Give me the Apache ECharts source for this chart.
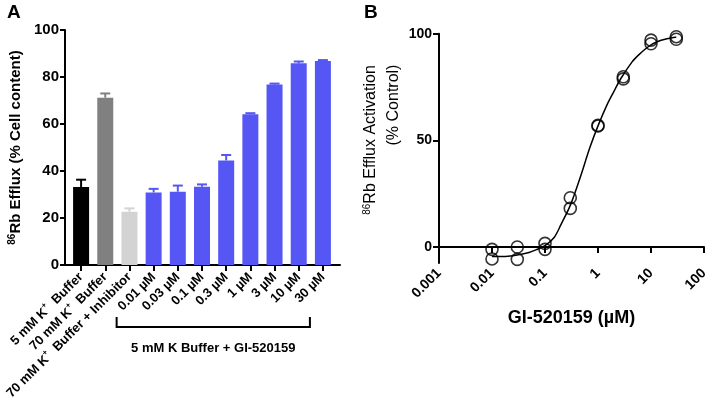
<!DOCTYPE html>
<html>
<head>
<meta charset="utf-8">
<script src="https://cdn.jsdelivr.net/npm/echarts@6/dist/echarts.min.js"></script>
<style>html,body{margin:0;padding:0;background:#fff}#c{width:709px;height:408px}</style>
</head>
<body>
<div id="c"></div>
<script>
// ---- Panel A data ----
var categoriesA = ['5 mM K+ Buffer', '70 mM K+ Buffer', '70 mM K+ Buffer + Inhibitor',
  '0.01 µM', '0.03 µM', '0.1 µM', '0.3 µM', '1 µM', '3 µM', '10 µM', '30 µM'];
var effluxA = [33.2, 71.2, 22.7, 30.9, 31.2, 33.3, 44.5, 64.2, 76.8, 85.8, 86.8];
var errorA = [3.1, 1.8, 1.4, 1.5, 2.6, 1.0, 2.3, 0.4, 0.4, 0.8, 0.4];
var colorsA = ['#000000', '#808080', '#d3d3d3', '#5656F5', '#5656F5', '#5656F5', '#5656F5',
  '#5656F5', '#5656F5', '#5656F5', '#5656F5'];
var yTicksA = [0, 20, 40, 60, 80, 100];

// ---- Panel B data ----
var dosesB = [0.01, 0.03, 0.1, 0.3, 1, 3, 10, 30];
var rep1B = [-1.1, 0, 1.7, 23.1, 57.0, 79.8, 97.0, 98.6];
var rep2B = [-5.6, -5.8, -1.1, 18.1, 56.7, 78.8, 95.3, 97.4];
var curveXB = [0.01, 0.02, 0.03, 0.05, 0.07, 0.1, 0.15, 0.2, 0.3, 0.46, 0.7, 1, 1.5, 2, 2.7, 4.4, 6, 9, 13, 20, 30];
var curveYB = [-4.5, -4.3, -3.8, -2.6, -1.2, 0.6, 4.6, 10.5, 19.5, 32.5, 46.5, 56.8, 67, 73, 79, 86.8, 90.3, 94, 96.2, 97.6, 98.4];
var baselineAnchorXB = [0.01, 10];   // zero line spans one decade beyond each anchor (0.001 .. 100)
var baselineYB = 0;
var xTickLabelsB = ['0.001', '0.01', '0.1', '1', '10', '100'];
var yTicksB = [0, 50, 100];

var FONT = 'Arial, "Liberation Sans", Helvetica, sans-serif';
var chart = echarts.init(document.getElementById('c'), null, {renderer: 'canvas'});

var barData = effluxA.map(function (v, i) {
  return {value: v, itemStyle: {color: colorsA[i]}};
});
var errData = effluxA.map(function (v, i) { return [i, v, v + errorA[i]]; });

var option = {
  animation: false,
  backgroundColor: '#fff',
  grid: [
    {left: 65, top: 30, width: 275, height: 235, containLabel: false, outerBoundsMode: 'none'},
    {left: 69, top: 30, width: 266, height: 235, containLabel: false, outerBoundsMode: 'none'},
    {left: 439, top: 33.7, width: 265, height: 229.3, containLabel: false, outerBoundsMode: 'none'}
  ],
  xAxis: [
    {gridIndex: 0, type: 'value', min: 0, max: 1,
      axisLine: {show: true, lineStyle: {color: '#000', width: 2}},
      axisTick: {show: false}, axisLabel: {show: false}, splitLine: {show: false}},
    {gridIndex: 1, type: 'category', data: categoriesA,
      axisLine: {show: false},
      axisTick: {show: true, alignWithLabel: true, length: 6, lineStyle: {color: '#000', width: 2}},
      axisLabel: {
        interval: 0, rotate: 45, margin: 10, color: '#000', fontFamily: FONT, fontWeight: 'bold', fontSize: 13,
        formatter: function (s) { return s.replace('K+ ', 'K{s|+}  '); },
        rich: {s: {fontSize: 8, fontWeight: 'bold', color: '#000', fontFamily: FONT, verticalAlign: 'top', padding: [0, 0, 9, 0]}}
      },
      splitLine: {show: false}},
    {gridIndex: 2, type: 'log', logBase: 10, min: 0.001, max: 100, splitNumber: 5,
      axisLine: {show: true, lineStyle: {color: '#000', width: 2}},
      axisTick: {show: true, length: 6, lineStyle: {color: '#000', width: 2}},
      axisLabel: {rotate: 45, margin: 8, color: '#000', fontFamily: FONT, fontWeight: 'bold', fontSize: 14,
        formatter: function (v) { var e = Math.round(Math.log10(v)); return xTickLabelsB[e + 3] || ''; }},
      minorTick: {show: false},
      splitLine: {show: false},
      name: 'GI-520159 (µM)', nameLocation: 'middle', nameGap: 46,
      nameTextStyle: {color: '#000', fontFamily: FONT, fontWeight: 'bold', fontSize: 18}}
  ],
  yAxis: [
    {gridIndex: 0, type: 'value', min: 0, max: 100, interval: 20,
      axisLine: {show: true, lineStyle: {color: '#000', width: 2}},
      axisTick: {show: true, length: 5, lineStyle: {color: '#000', width: 2}},
      axisLabel: {margin: 6, color: '#000', fontFamily: FONT, fontWeight: 'bold', fontSize: 15,
        formatter: function (v) { return yTicksA.indexOf(v) >= 0 ? String(v) : ''; }},
      splitLine: {show: false},
      name: '{s|86}Rb Efflux (% Cell content)', nameLocation: 'middle', nameRotate: 90, nameGap: 40,
      nameTextStyle: {color: '#000', fontFamily: FONT, fontWeight: 'bold', fontSize: 15,
        rich: {s: {fontSize: 10, fontWeight: 'bold', fontFamily: FONT, color: '#000', verticalAlign: 'top', padding: [0, 0, 8, 0]}}}},
    {gridIndex: 1, type: 'value', min: 0, max: 100, show: false},
    {gridIndex: 2, type: 'value', min: -7.5, max: 100,
      axisLine: {show: true, lineStyle: {color: '#000', width: 2}},
      axisTick: {show: true, length: 6, lineStyle: {color: '#000', width: 2}, customValues: yTicksB},
      axisLabel: {margin: 7, color: '#000', fontFamily: FONT, fontWeight: 'bold', fontSize: 14, customValues: yTicksB},
      splitLine: {show: false}}
  ],
  series: [
    {type: 'bar', xAxisIndex: 1, yAxisIndex: 1, data: barData, barWidth: 16, silent: true},
    {type: 'custom', xAxisIndex: 1, yAxisIndex: 1, data: errData, silent: true, z: 1,
      renderItem: function (params, api) {
        var i = api.value(0);
        var p0 = api.coord([i, api.value(1)]);
        var p1 = api.coord([i, api.value(2)]);
        var col = colorsA[i];
        var hw = 5;
        return {type: 'group', children: [
          {type: 'line', shape: {x1: p0[0], y1: p0[1], x2: p1[0], y2: p1[1]}, style: {stroke: col, lineWidth: 2}},
          {type: 'line', shape: {x1: p1[0] - hw, y1: p1[1], x2: p1[0] + hw, y2: p1[1]}, style: {stroke: col, lineWidth: 2}}
        ]};
      }},
    // dotted zero reference line: anchored on two doses, extended one decade on each side
    {type: 'scatter', xAxisIndex: 2, yAxisIndex: 2, symbolSize: 0, silent: true,
      data: baselineAnchorXB.map(function (x) { return [x, baselineYB]; }),
      itemStyle: {color: 'rgba(0,0,0,0)'}},
    {type: 'line', xAxisIndex: 2, yAxisIndex: 2, smooth: 0.3, showSymbol: false, silent: true,
      data: curveXB.map(function (x, i) { return [x, curveYB[i]]; }),
      lineStyle: {color: '#000', width: 1.5}},
    {type: 'scatter', xAxisIndex: 2, yAxisIndex: 2, symbol: 'circle', symbolSize: 12, silent: true,
      data: dosesB.map(function (x, i) { return [x, rep1B[i]]; }),
      itemStyle: {color: 'rgba(0,0,0,0)', borderColor: '#000', borderWidth: 1.6}},
    {type: 'scatter', xAxisIndex: 2, yAxisIndex: 2, symbol: 'circle', symbolSize: 12, silent: true,
      data: dosesB.map(function (x, i) { return [x, rep2B[i]]; }),
      itemStyle: {color: 'rgba(0,0,0,0)', borderColor: '#000', borderWidth: 1.6}}
  ]
};
chart.setOption(option);

// Bracket under GI-520159 concentrations (anchored on category positions)
var xs = chart.convertToPixel({xAxisIndex: 1}, 3);
var xe = chart.convertToPixel({xAxisIndex: 1}, 10);
var bx1 = xs - 37, bx2 = xe - 13, by = 327, bTop = 317;

// Zero baseline pixels from the panel's own scales
var pa = chart.convertToPixel({xAxisIndex: 2, yAxisIndex: 2}, [baselineAnchorXB[0], baselineYB]);
var pb = chart.convertToPixel({xAxisIndex: 2, yAxisIndex: 2}, [baselineAnchorXB[1], baselineYB]);
var graphics = [];
if (pa && pb && isFinite(pa[0]) && isFinite(pb[0]) && isFinite(pa[1])) {
  var decade = (pb[0] - pa[0]) / 3;
  var xL = pa[0] - decade, xR = pb[0] + decade, yb = Math.round(pa[1]);
  for (var x = xL + 3; x < xR; x += 4) {
    graphics.push({type: 'rect', silent: true, z: 100,
      shape: {x: Math.round(x), y: yb - 1, width: 2, height: 2}, style: {fill: '#000'}});
  }
}
graphics.push(
  {type: 'text', left: 7, top: 3, style: {text: 'A', font: 'bold 19px ' + FONT, fill: '#000'}},
  {type: 'text', left: 364, top: 3, style: {text: 'B', font: 'bold 19px ' + FONT, fill: '#000'}},
  {type: 'polyline', shape: {points: [[bx1, bTop], [bx1, by], [bx2, by], [bx2, bTop]]},
    style: {stroke: '#000', lineWidth: 2, fill: null}},
  {type: 'text', x: (bx1 + bx2) / 2, y: 348,
    style: {text: '5 mM K Buffer + GI-520159', font: 'bold 13px ' + FONT, fill: '#000', align: 'center', verticalAlign: 'middle'}},
  {type: 'text', x: 371, y: 140, rotation: Math.PI / 2,
    style: {text: '{s|86}Rb Efflux Activation', font: '16px ' + FONT, fill: '#000', align: 'center', verticalAlign: 'middle',
      rich: {s: {font: '10px ' + FONT, fill: '#000', verticalAlign: 'top', padding: [0, 0, 8, 0]}}}},
  {type: 'text', x: 394, y: 105, rotation: Math.PI / 2,
    style: {text: '(% Control)', font: '16px ' + FONT, fill: '#000', align: 'center', verticalAlign: 'middle'}}
);
chart.setOption({graphic: graphics});
</script>
</body>
</html>
